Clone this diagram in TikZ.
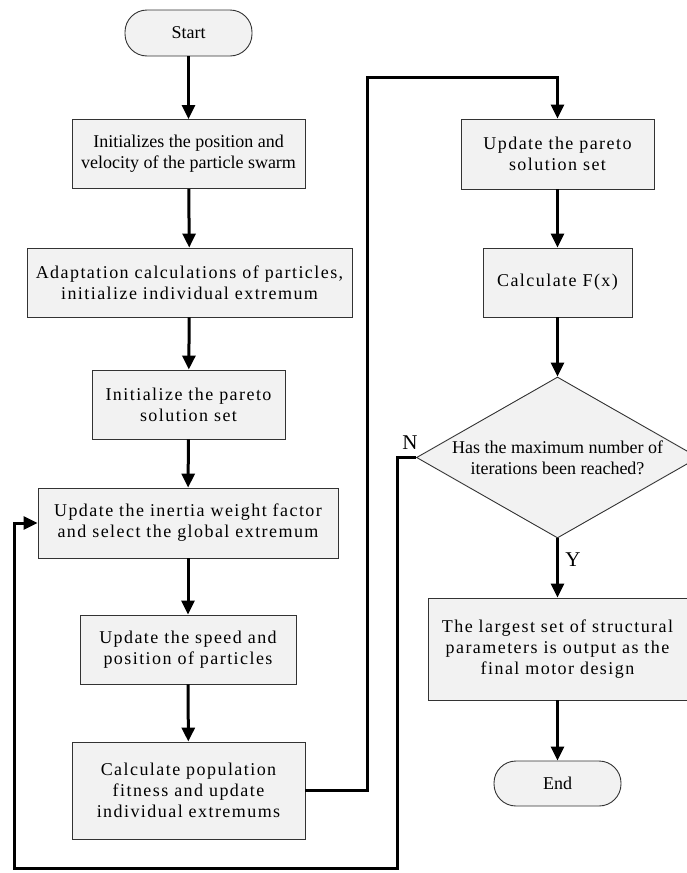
\documentclass[tikz,border=0pt]{standalone}
\usepackage{fontspec}
\setmainfont{Liberation Serif}
\newfontfamily\spfont[LetterSpace=8]{Liberation Serif}
\usetikzlibrary{arrows.meta,shapes.geometric}
\definecolor{boxgray}{HTML}{F2F2F2}
\definecolor{edgegray}{HTML}{333333}
\begin{document}
\begin{tikzpicture}[x=1pt,y=-1pt,
  box/.style={draw=edgegray,line width=0.9pt,fill=boxgray,align=center,inner sep=0pt,font=\fontsize{18}{21}\selectfont},
  sbox/.style={box,font=\spfont\fontsize{18}{21}\selectfont},
  term/.style={box,rounded corners=22pt},
  flow/.style={line width=3pt,-{Triangle[width=13pt,length=14pt]}},
  lbl/.style={font=\fontsize{21}{24}\selectfont,inner sep=0pt}]
\clip (0,0) rectangle (687,873);
\fill[white] (0,0) rectangle (687,873);
% left column
\node[term,minimum width=127pt,minimum height=46pt] (start) at (188.5,33) {Start};
\node[box,minimum width=233pt,minimum height=69pt] (b1) at (188.5,154) {Initializes the position and\\velocity of the particle swarm};
\node[sbox,minimum width=325pt,minimum height=69pt] (b2) at (189.5,282.5) {Adaptation calculations of particles,\\initialize individual extremum};
\node[sbox,minimum width=193pt,minimum height=69pt] (b3) at (188.5,404.5) {Initialize the pareto\\solution set};
\node[sbox,minimum width=300pt,minimum height=70pt] (b4) at (188,523) {Update the inertia weight factor\\and select the global extremum};
\node[sbox,minimum width=216pt,minimum height=69pt] (b5) at (188,649.5) {Update the speed and\\position of particles};
\node[sbox,minimum width=233pt,minimum height=97pt] (b6) at (188.5,790.5) {Calculate population\\fitness and update\\individual extremums};
% right column
\node[sbox,minimum width=193pt,minimum height=70pt] (b7) at (557.5,154) {Update the pareto\\solution set};
\node[sbox,minimum width=149pt,minimum height=69pt] (b8) at (557.5,282.5) {Calculate F(x)};
\node[box,diamond,minimum width=282pt,minimum height=161pt] (d) at (557.5,457.5) {};
\node[align=center,inner sep=0pt,font=\fontsize{18}{21}\selectfont] (dt) at (d.center) {Has the maximum number of\\iterations been reached?};
\node[sbox,minimum width=259pt,minimum height=102pt] (b9) at (557.5,649) {The largest set of structural\\parameters is output as the\\final motor design};
\node[term,minimum width=127pt,minimum height=45pt] (end) at (557.5,783.5) {End};
% connectors
\draw[flow] (start) -- (b1);
\draw[flow] (b1) -- (b2);
\draw[flow] (b2) -- (b3);
\draw[flow] (b3) -- (b4);
\draw[flow] (b4) -- (b5);
\draw[flow] (b5) -- (b6);
\coordinate (c1) at (367,77);
\draw[flow] (b6.east) -| (c1) -| (b7.north);
\draw[flow] (b7) -- (b8);
\draw[flow] (b8) -- (d.north);
\draw[flow] (d.south) -- (b9.north);
\draw[flow] (b9) -- (end);
\coordinate (c2) at (397,868);
\coordinate (c3) at (14,868);
\draw[flow] (d.west) -| (c2) -- (c3) |- (b4.west);
% labels
\node[lbl] (nl) at (410,443) {N};
\node[lbl] (yl) at (573,560) {Y};
\end{tikzpicture}
\end{document}
